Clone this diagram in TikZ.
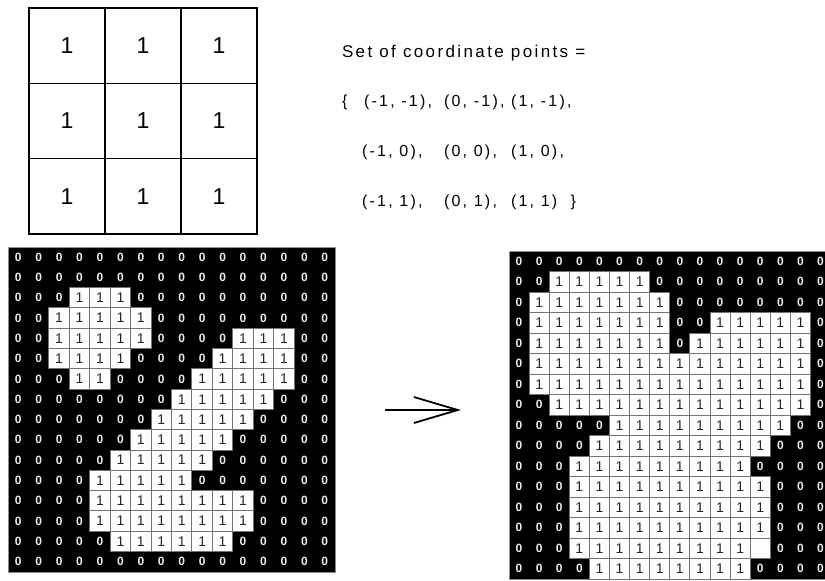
\documentclass[tikz,border=0pt]{standalone}
\usepackage{fontspec}
\setmainfont{Liberation Sans}
\newfontfamily\pointsfont[LetterSpace=14]{Liberation Sans}
\usetikzlibrary{arrows.meta}

\begin{document}
\begin{tikzpicture}[%
    x=1pt, y=-1pt,
    every node/.style = {inner sep=0pt, outer sep=0pt},
    kernel cell/.style = {draw=black, line width=1.6pt, minimum width=76pt, minimum height=75.3pt, font=\fontsize{23}{23}\selectfont},
    grid back/.style = {fill=black, draw=black!45, line width=0.8pt, anchor=north west},
    zero cell/.style = {text=black!8, font=\fontsize{12}{12}\selectfont\bfseries},
    one cell/.style = {fill=white, draw=black!55, line width=1pt, font=\fontsize{14}{14}\selectfont, text=black!85},
    points text/.style = {anchor=west, font=\fontsize{16}{16}\pointsfont}%
  ]
    \useasboundingbox (0,0) rectangle (825,581);

    % structuring element
    \foreach \r in {0,1,2}
      \foreach \c in {0,1,2}
        \node[kernel cell] (k-\r-\c) at ({29+76*\c+38}, {8+75.3*\r+37.65}) {1};

    \node[points text, font=\fontsize{17}{17}\pointsfont] (settitle) at (342,53) {Set of coordinate points =};
    \node[points text] (openbrace) at (342,102) {\{};
    \node[points text] (p-0-0) at (364,102) {(-1, -1),};
    \node[points text] (p-0-1) at (444,102) {(0, -1),};
    \node[points text] (p-0-2) at (511,102) {(1, -1),};
    \node[points text] (p-1-0) at (362,152) {(-1, 0),};
    \node[points text] (p-1-1) at (444,152) {(0, 0),};
    \node[points text] (p-1-2) at (511,152) {(1, 0),};
    \node[points text] (p-2-0) at (362,202) {(-1, 1),};
    \node[points text] (p-2-1) at (444,202) {(0, 1),};
    \node[points text] (p-2-2) at (511,202) {(1, 1)~~\}};

    % input image
    \node[grid back, minimum width=327pt, minimum height=325pt] (leftgrid) at (8,247) {};
    \foreach \r in {0,...,15}
      \foreach \c in {0,...,15}
        \node[zero cell] (lz-\r-\c) at ({8+20.44*\c+10.22}, {247+20.3*\r+10.15}) {0};
    \foreach \r/\a/\b in {2/3/5, 3/2/6, 4/2/6, 4/11/13, 5/2/5, 5/10/13, 6/3/4, 6/9/13,
                          7/8/12, 8/7/11, 9/6/10, 10/5/9, 11/4/8, 12/4/11, 13/4/11, 14/5/10}
      \foreach \c in {\a,...,\b}
        \node[one cell, minimum width=20.44pt, minimum height=20.3pt] (lo-\r-\c) at ({8+20.44*\c+10.22}, {247+20.3*\r+10.15}) {1};

    % dilated image
    \begin{scope}
      \clip (0,0) rectangle (825,581);
      \node[grid back, minimum width=322pt, minimum height=328pt] (rightgrid) at (509,251) {};
      \foreach \r in {0,...,15}
        \foreach \c in {0,...,15}
          \node[zero cell] (rz-\r-\c) at ({509+20.1*\c+10.05}, {251+20.5*\r+10.25}) {0};
      \foreach \r/\a/\b in {1/2/6, 2/1/7, 3/1/7, 3/10/14, 4/1/7, 4/9/14, 5/1/14, 6/1/14, 7/2/14,
                            8/5/13, 9/4/12, 10/3/11, 11/3/12, 12/3/12, 13/3/12, 14/3/11, 15/4/11}
        \foreach \c in {\a,...,\b}
          \node[one cell, minimum width=20.1pt, minimum height=20.5pt] (ro-\r-\c) at ({509+20.1*\c+10.05}, {251+20.5*\r+10.25}) {1};
      \node[one cell, minimum width=20.1pt, minimum height=20.5pt] (ro-14-12) at ({509+20.1*12+10.05}, {251+20.5*14+10.25}) {};
    \end{scope}

    \coordinate (arrowtail) at (385,410);
    \coordinate (arrowhead) at (461,410);
    \draw[line width=2pt, -{Straight Barb[length=44pt, width=26pt, line width=1.8pt]}] (arrowtail) -- (arrowhead);
  \end{tikzpicture}
\end{document}
